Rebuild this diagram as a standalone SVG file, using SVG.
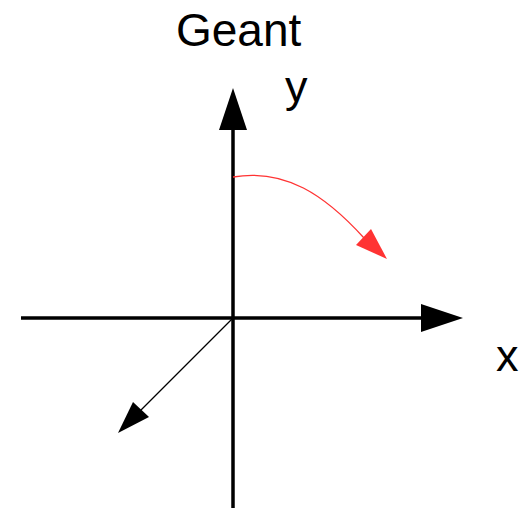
<svg xmlns="http://www.w3.org/2000/svg" width="524" height="509" viewBox="0 0 524 509">
<style>
text{font-family:"Liberation Sans",Arial,sans-serif;font-size:45px;fill:#000}
.axis{stroke:#000;stroke-width:3.5;fill:none}
</style>
<rect width="524" height="509" fill="#fff"/>
<g id="connectors">
<line class="axis" x1="233" y1="508" x2="233" y2="128"/>
<polygon points="233,88 219,130 247,130" fill="#000"/>
<line class="axis" x1="21" y1="318" x2="423" y2="318"/>
<polygon points="463,318 421,304 421,332" fill="#000"/>
<line x1="233" y1="318" x2="140" y2="411" stroke="#000" stroke-width="1.2"/>
<polygon points="118,433 133,402 149,417" fill="#000"/>
<path d="M233,177 C285,168 325,195 364,238" stroke="#ff3333" stroke-width="1.3" fill="none"/>
<polygon points="387,259 356,245 371,229" fill="#ff3333"/>
</g>
<g id="label-geant"><text x="176" y="46" style="font-size:46px">Geant</text></g>
<g id="label-y"><text x="285" y="102">y</text></g>
<g id="label-x"><text x="496" y="371">x</text></g>
</svg>
